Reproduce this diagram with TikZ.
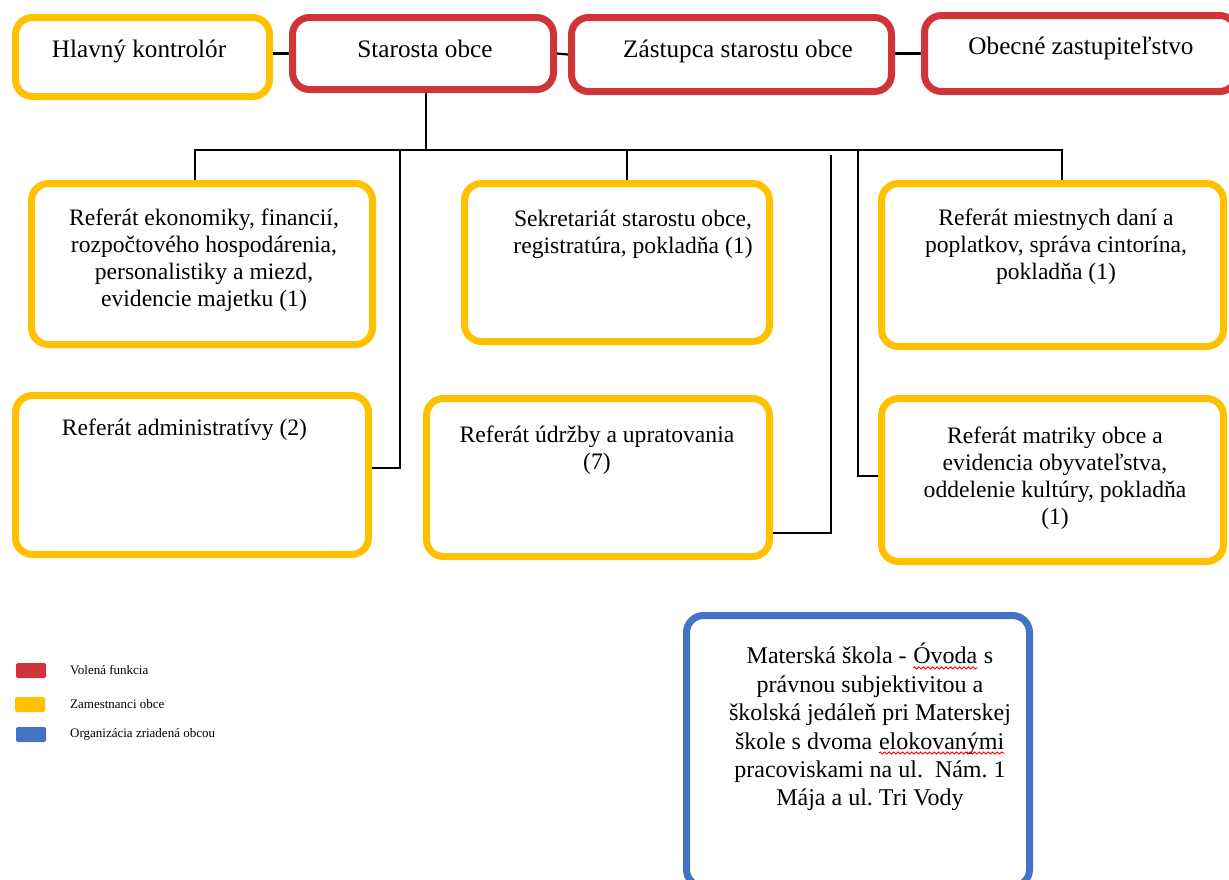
\documentclass[tikz,border=0pt]{standalone}
\usepackage{fontspec}
\setmainfont{Liberation Serif}
\usepackage{tikz}
\usetikzlibrary{decorations.pathmorphing}
\frenchspacing

\definecolor{volena}{RGB}{209,52,56}
\definecolor{zamest}{RGB}{255,192,0}
\definecolor{organiz}{RGB}{68,114,196}

\tikzset{
  box/.style={draw, line width=7pt, rounded corners=17pt, fill=white, inner sep=0pt},
  redbox/.style={box, draw=volena},
  yellowbox/.style={box, draw=zamest},
  bluebox/.style={box, draw=organiz},
  boxtext/.style={anchor=north, align=center, inner sep=0pt, font=\fontsize{23.6}{26.8}\selectfont},
  toptext/.style={boxtext, font=\fontsize{25.2}{28}\selectfont},
  conn/.style={line width=2.2pt, black},
  swatch/.style={rounded corners=2pt, minimum width=30pt, minimum height=15pt, inner sep=0pt},
  legendtext/.style={anchor=west, inner sep=0pt, font=\fontsize{13}{15}\selectfont}
}
\newcommand{\spellmark}[1]{\tikz[baseline=(w.base)]{\node (w) [inner sep=0pt, anchor=base] {#1};
  \draw [red, line width=0.9pt, decorate, decoration={snake, amplitude=1.1pt, segment length=4.5pt}]
    ([yshift=-4pt]w.base west) -- ([yshift=-4pt]w.base east);}}

\begin{document}
\begin{tikzpicture}[x=1pt, y=-1pt]
\useasboundingbox (0,0) rectangle (1229,879);

% vedenie obce
\node (hlavny) [yellowbox, minimum width=254pt, minimum height=79pt] at (142.5,57) {};
\node (starosta) [redbox, minimum width=261pt, minimum height=72pt] at (423,53.5) {};
\node (zastupca) [redbox, minimum width=320pt, minimum height=74pt] at (731.5,54.5) {};
\node (obecne) [redbox, minimum width=312pt, minimum height=76pt] at (1080.5,53.5) {};

% referaty
\node (ekonom) [yellowbox, minimum width=341pt, minimum height=161pt] at (202,264) {};
\node (sekret) [yellowbox, minimum width=305pt, minimum height=158pt] at (617,262.5) {};
\node (dane) [yellowbox, minimum width=342pt, minimum height=163pt] at (1052.5,265) {};
\node (admin) [yellowbox, minimum width=353pt, minimum height=159pt] at (192,475) {};
\node (udrzba) [yellowbox, minimum width=343pt, minimum height=158pt] at (598,477.5) {};
\node (matrika) [yellowbox, minimum width=342pt, minimum height=163pt] at (1052.5,480) {};
\node (skola) [bluebox, minimum width=343pt, minimum height=271pt] at (858,751) {};

% texty
\node (t-hlavny) [toptext] at (139,40) {Hlavný kontrolór};
\node (t-starosta) [toptext] at (425,40) {Starosta obce};
\node (t-zastupca) [toptext] at (738,40) {Zástupca starostu obce};
\node (t-obecne) [toptext] at (1081,37) {Obecné zastupiteľstvo};
\node (t-ekonom) [boxtext] at (204,209) {Referát ekonomiky, financií,\\rozpočtového hospodárenia,\\personalistiky a miezd,\\evidencie majetku (1)};
\node (t-sekret) [boxtext] at (633,210) {Sekretariát starostu obce,\\registratúra, pokladňa (1)};
\node (t-dane) [boxtext] at (1056,209) {Referát miestnych daní a\\poplatkov, správa cintorína,\\pokladňa (1)};
\node (t-admin) [boxtext] at (184.5,419) {Referát administratívy (2)};
\node (t-udrzba) [boxtext] at (597,426) {Referát údržby a upratovania\\(7)};
\node (t-matrika) [boxtext] at (1055,427) {Referát matriky obce a\\evidencia obyvateľstva,\\oddelenie kultúry, pokladňa\\(1)};
\node (t-skola) [boxtext, font=\fontsize{24}{28.4}\selectfont] at (870,643) {Materská škola - \spellmark{Óvoda} s\\právnou subjektivitou a\\školská jedáleň pri Materskej\\škole s dvoma \spellmark{elokovanými}\\pracoviskami na ul.~~Nám. 1\\Mája a ul. Tri Vody};

% spojnice hore
\draw [conn] (hlavny.east |- starosta.west) -- (starosta.west);
\draw [conn] (starosta.east) -- (zastupca.west);
\draw [conn] (zastupca.east |- obecne.west) -- (obecne.west);

% zbernica
\coordinate (bus) at (426,150);
\coordinate (busL) at (195,150);
\coordinate (busR) at (1062,150);
\draw [conn] (starosta.south -| bus) -- (bus);
\draw [conn] (busL |- ekonom.north) -- (busL) -- (busR) -- (busR |- dane.north);
\draw [conn] (627,150) -- (627,180);
\draw [conn] (400,150) -- (400,468) -- (admin.east |- 0,468);
\draw [conn] (831,155) -- (831,533) -- (udrzba.east |- 0,533);
\draw [conn] (858,150) -- (858,476) -- (matrika.west |- 0,476);

% legenda
\node (lg-red) [swatch, fill=volena] at (31,670.5) {};
\node (lg-yellow) [swatch, fill=zamest] at (30,704.5) {};
\node (lg-blue) [swatch, fill=organiz] at (31,734.5) {};
\node (lt-red) [legendtext] at (70,670.5) {Volená funkcia};
\node (lt-yellow) [legendtext] at (70,704.5) {Zamestnanci obce};
\node (lt-blue) [legendtext] at (70,734.5) {Organizácia zriadená obcou};
\end{tikzpicture}
\end{document}
